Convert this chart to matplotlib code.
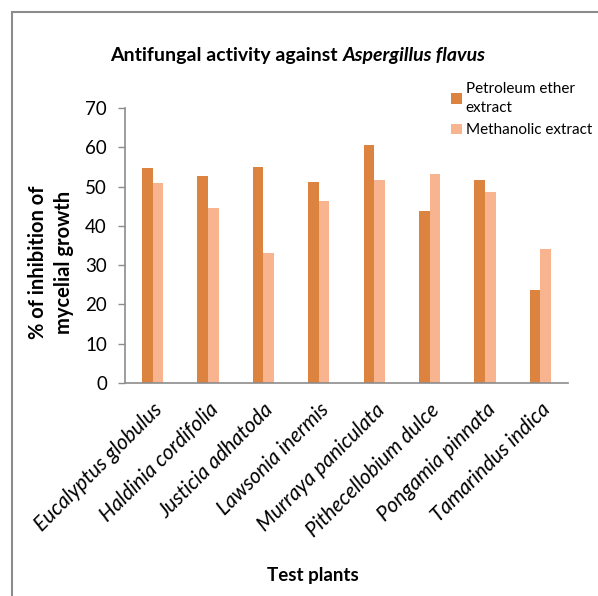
import matplotlib
matplotlib.use("Agg")
import matplotlib.pyplot as plt
import numpy as np
from matplotlib.patches import Rectangle

plt.rcParams['font.family'] = ['Lato', 'DejaVu Sans']

plants = ["Eucalyptus globulus", "Haldinia cordifolia", "Justicia adhatoda",
          "Lawsonia inermis", "Murraya paniculata", "Pithecellobium dulce",
          "Pongamia pinnata", "Tamarindus indica"]
petroleum = [54.7, 52.8, 55.0, 51.2, 60.5, 43.7, 51.7, 23.7]
methanolic = [50.9, 44.5, 33.1, 46.4, 51.7, 53.3, 48.6, 34.2]
series_names = ["Petroleum ether\nextract", "Methanolic extract"]
yticks = [0, 10, 20, 30, 40, 50, 60, 70]

c_pe = "#DC843F"
c_me = "#F8B48E"
gray = "#8C8C8C"

W, H = 598, 596
fig = plt.figure(figsize=(W/100, H/100), dpi=100)
ax = fig.add_axes([125/W, 1-383/H, (568-125)/W, (383-108)/H])

x = np.arange(len(plants))
w = 0.193
b1 = ax.bar(x - w/2, petroleum, width=w, color=c_pe, label=series_names[0])
b2 = ax.bar(x + w/2, methanolic, width=w, color=c_me, label=series_names[1])

ax.set_xlim(-0.5, len(plants) - 0.5)
ax.set_ylim(0, 70)
ax.set_yticks(yticks)
ax.set_yticklabels([str(t) for t in yticks], fontsize=13.5)
ax.set_xticks(x)
ax.set_xticklabels(plants, rotation=45, ha='right', va='top', rotation_mode='anchor',
                   fontsize=15, style='italic')
ax.tick_params(axis='x', length=0, pad=12)
ax.tick_params(axis='y', length=5, color=gray, width=1, pad=8)
for s in ['top', 'right']:
    ax.spines[s].set_visible(False)
for s in ['left', 'bottom']:
    ax.spines[s].set_color(gray)
    ax.spines[s].set_linewidth(1.2)

fig.text(51/W, 1-262/H, "% of inhibition of\nmycelial growth", fontsize=14.5,
         fontweight='bold', rotation=90, ha='center', va='center',
         linespacing=1.35, multialignment='center')
fig.text(313/W, 1-575/H, "Test plants", fontsize=13.5, fontweight='bold',
         ha='center', va='center')

# title: bold part + bold italic part
t1 = fig.text(110/W, 1-55/H, "Antifungal activity against ", fontsize=14,
              fontweight='bold', ha='left', va='center')
fig.canvas.draw()
bb = t1.get_window_extent()
fig.text(bb.x1/W, 1-55/H, "Aspergillus flavus", fontsize=14,
         fontweight='bold', style='italic', ha='left', va='center')

leg = fig.legend(handles=[b1, b2], loc='upper left',
                 bbox_to_anchor=(445/W, 1-76/H), frameon=False,
                 fontsize=11, handlelength=0.7, handleheight=0.7,
                 handletextpad=0.25, labelspacing=0.55, borderaxespad=0)
for t in leg.get_texts():
    t.set_linespacing(1.45)

fig.patches.append(Rectangle((12/W, -0.1), 1.2, 1 - 12/H + 0.1,
                             transform=fig.transFigure, fill=False,
                             edgecolor=gray, linewidth=1.5))

fig.savefig("out.png", dpi=100)
